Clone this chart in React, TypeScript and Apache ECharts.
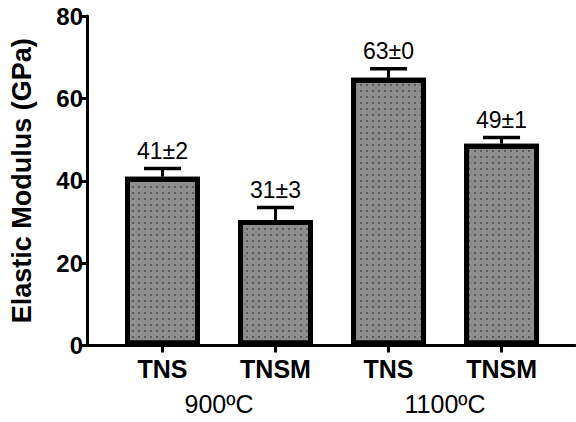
import React, { useEffect, useRef } from "react";
import * as echarts from "echarts";

const categories = ["TNS", "TNSM", "TNS", "TNSM"];
const groups = ["900ºC", "1100ºC"];
const means = [41, 30.5, 65, 49];
const errors = [2, 3, 2.2, 1.5];
const valueLabels = ["41±2", "31±3", "63±0", "49±1"];
const yTicks = [0, 20, 40, 60, 80];

const FONT = '"Liberation Sans", Arial, Helvetica, sans-serif';

export default function App() {
  const ref = useRef<HTMLDivElement>(null);
  useEffect(() => {
    if (!ref.current) return;
    document.body.style.margin = "0";
    const chart = echarts.init(ref.current, null, { renderer: "svg" });
    const idx = categories.map((_, i) => i);
    const xMin = -0.668;
    const xMax = 3.65;
    chart.setOption({
      animation: false,
      backgroundColor: "#ffffff",
      grid: { left: 84, right: 1, top: 16, bottom: 76.5, containLabel: false },
      xAxis: [
        {
          type: "value",
          min: xMin,
          max: xMax,
          position: "bottom",
          axisLine: { show: true, onZero: false, lineStyle: { color: "#000", width: 3 } },
          axisTick: { show: true, customValues: idx, length: 7, lineStyle: { color: "#000", width: 3 } },
          axisLabel: {
            customValues: idx,
            formatter: (v: number) => categories[Math.round(v)] ?? "",
            color: "#000",
            fontFamily: FONT,
            fontWeight: "bold",
            fontSize: 25,
            margin: 11,
          },
          splitLine: { show: false },
        },
        {
          type: "value",
          min: xMin,
          max: xMax,
          position: "bottom",
          offset: 40,
          axisLine: { show: false },
          axisTick: { show: false },
          axisLabel: {
            customValues: [0.5, 2.5],
            formatter: (v: number) => (v < 1.5 ? groups[0] : groups[1]),
            color: "#000",
            fontFamily: FONT,
            fontSize: 25,
            margin: 6,
          },
          splitLine: { show: false },
        },
      ],
      yAxis: {
        type: "value",
        min: yTicks[0],
        max: yTicks[yTicks.length - 1],
        interval: 20,
        name: "Elastic Modulus (GPa)",
        nameLocation: "middle",
        nameGap: 52,
        nameRotate: 90,
        nameTextStyle: { color: "#000", fontFamily: FONT, fontWeight: "bold", fontSize: 27 },
        axisLine: { show: true, onZero: false, lineStyle: { color: "#000", width: 3 } },
        axisTick: { show: true, length: 8, lineStyle: { color: "#000", width: 3 } },
        axisLabel: { color: "#000", fontFamily: FONT, fontWeight: "bold", fontSize: 24, margin: 4 },
        splitLine: { show: false },
      },
      series: [
        {
          type: "bar",
          xAxisIndex: 0,
          barWidth: 75,
          data: means.map((m, i) => [i, m]),
          itemStyle: {
            color: "#8e8e8e",
            borderColor: "#000",
            borderWidth: 5,
            decal: {
              symbol: "rect",
              symbolSize: 0.75,
              color: "#333333",
              dashArrayX: [2, 4],
              dashArrayY: [2, 4],
            },
          },
          z: 2,
        },
        {
          type: "custom",
          xAxisIndex: 0,
          z: 3,
          data: means.map((m, i) => [i, m, errors[i]]),
          renderItem: (params: any, api: any) => {
            const x = api.value(0);
            const m = api.value(1);
            const e = api.value(2);
            const p0 = api.coord([x, m]);
            const p1 = api.coord([x, m + e]);
            const half = 18.5;
            return {
              type: "group",
              children: [
                {
                  type: "line",
                  shape: { x1: p0[0], y1: p0[1], x2: p1[0], y2: p1[1] },
                  style: { stroke: "#000", lineWidth: 3 },
                },
                {
                  type: "line",
                  shape: { x1: p1[0] - half, y1: p1[1], x2: p1[0] + half, y2: p1[1] },
                  style: { stroke: "#000", lineWidth: 3.5 },
                },
                {
                  type: "text",
                  x: p1[0],
                  y: p1[1] - 6,
                  style: {
                    text: valueLabels[params.dataIndex],
                    fill: "#000",
                    fontFamily: FONT,
                    fontSize: 23,
                    align: "center",
                    verticalAlign: "bottom",
                  },
                },
              ],
            };
          },
        },
      ],
    });
    return () => chart.dispose();
  }, []);
  return (
    <div
      ref={ref}
      style={{ position: "fixed", left: 0, top: 0, width: 576, height: 422, background: "#fff" }}
    />
  );
}
